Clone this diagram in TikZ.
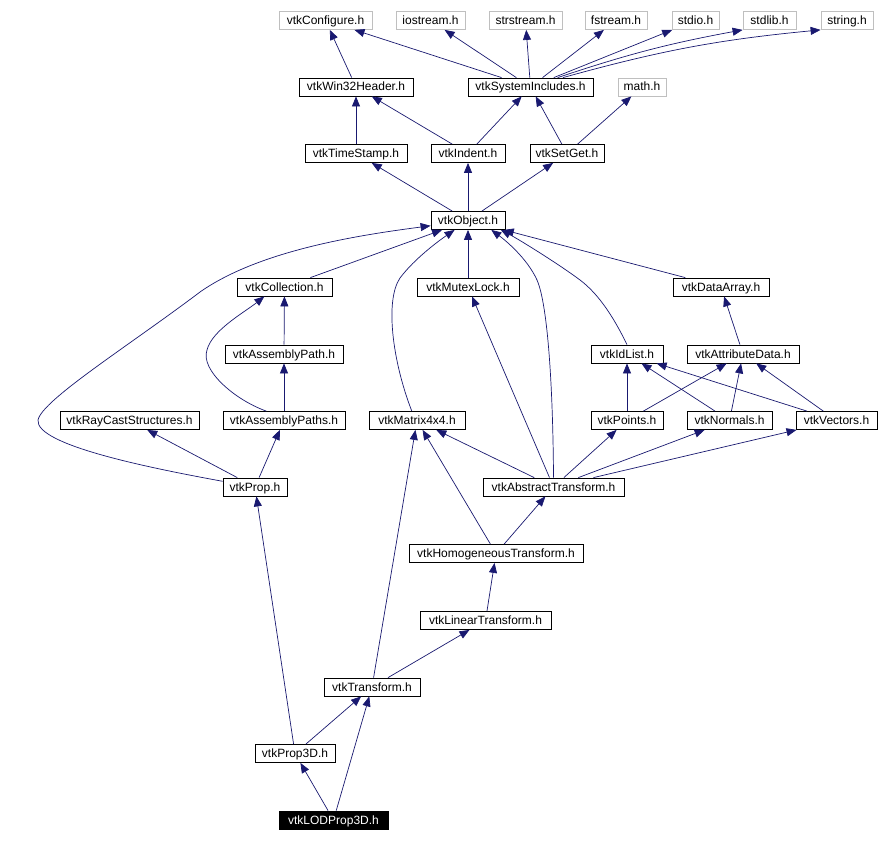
\documentclass[tikz,border=0pt]{standalone}
\usepackage{fontspec}
\setmainfont{Liberation Sans}
\usetikzlibrary{arrows.meta,positioning}
\definecolor{edgec}{HTML}{191970}
\definecolor{extc}{HTML}{BFBFBF}
\tikzset{
  ar/.style={-{Triangle[length=10pt,width=8pt]},line width=0.7pt,edgec},
  hb/.style={rectangle,draw=black,line width=0.8pt,minimum height=18pt,inner sep=0pt,
    text height=10pt,text depth=2pt,font=\fontsize{12}{14}\selectfont},
  xb/.style={hb,draw=extc},
  lb/.style={hb,fill=black,text=white}
}
\newcommand{\hdr}[6]{\node[#1,minimum width=#5pt] (#2) at (#3,#4) {#6};}

\begin{document}
\begin{tikzpicture}[x=1pt,y=-1pt]
\useasboundingbox[fill=white] (0,0) rectangle (878,842);
% headers, one row at a time
\hdr{xb}{cfg}{325.5}{20.5}{93}{vtkConfigure.h}
\hdr{xb}{ios}{430.5}{20.5}{69}{iostream.h}
\hdr{xb}{sstr}{525.5}{20.5}{73}{strstream.h}
\hdr{xb}{fstr}{616}{20.5}{62}{fstream.h}
\hdr{xb}{stdio}{695.5}{20.5}{47}{stdio.h}
\hdr{xb}{stdlib}{769.5}{20.5}{53}{stdlib.h}
\hdr{xb}{str}{847}{20.5}{52}{string.h}
\hdr{hb}{win}{356}{87}{114}{vtkWin32Header.h}
\hdr{hb}{sys}{530.5}{87}{125}{vtkSystemIncludes.h}
\hdr{xb}{math}{642}{87}{48}{math.h}
\hdr{hb}{tstamp}{356}{153.5}{102}{vtkTimeStamp.h}
\hdr{hb}{indent}{468}{153.5}{74}{vtkIndent.h}
\hdr{hb}{setget}{567}{153.5}{74}{vtkSetGet.h}
\hdr{hb}{obj}{468}{220.5}{74}{vtkObject.h}
\hdr{hb}{coll}{284.5}{287}{95}{vtkCollection.h}
\hdr{hb}{mutex}{468}{287}{102}{vtkMutexLock.h}
\hdr{hb}{darr}{721}{287}{96}{vtkDataArray.h}
\hdr{hb}{apath}{284}{354}{118}{vtkAssemblyPath.h}
\hdr{hb}{idl}{627}{354}{72}{vtkIdList.h}
\hdr{hb}{attr}{743}{354}{112}{vtkAttributeData.h}
\hdr{hb}{rcs}{129.5}{420.5}{139}{vtkRayCastStructures.h}
\hdr{hb}{apaths}{284}{420.5}{122}{vtkAssemblyPaths.h}
\hdr{hb}{mat}{417}{420.5}{96}{vtkMatrix4x4.h}
\hdr{hb}{pts}{627}{420.5}{72}{vtkPoints.h}
\hdr{hb}{nrm}{729.5}{420.5}{85}{vtkNormals.h}
\hdr{hb}{vec}{836.5}{420.5}{81}{vtkVectors.h}
\hdr{hb}{prop}{255}{487}{64}{vtkProp.h}
\hdr{hb}{abst}{553.5}{487}{141}{vtkAbstractTransform.h}
\hdr{hb}{homog}{496}{553.5}{174}{vtkHomogeneousTransform.h}
\hdr{hb}{lin}{485.5}{620.5}{131}{vtkLinearTransform.h}
\hdr{hb}{trans}{372}{687}{96}{vtkTransform.h}
\hdr{hb}{prop3d}{295}{753.5}{80}{vtkProp3D.h}
\hdr{lb}{lod}{333.5}{820}{109}{vtkLODProp3D.h}
% include edges
\draw[ar] (win) -- (cfg);
\foreach \t in {cfg,ios,sstr,fstr,stdio}{\draw[ar] (sys) -- (\t);}
\draw[ar] (sys) to[bend left=4] (stdlib.south west);
\draw[ar] (sys) to[bend left=5] (str.south west);
\draw[ar] (tstamp) -- (win);
\draw[ar] (indent) -- (win);
\draw[ar] (indent) -- (sys);
\draw[ar] (setget) -- (sys);
\draw[ar] (setget) -- (math);
\foreach \t in {tstamp,indent,setget}{\draw[ar] (obj) -- (\t);}
\draw[ar] (coll) -- (obj);
\draw[ar] (mutex) -- (obj);
\draw[ar] (darr) -- (obj);
\draw[ar] (prop.170) .. controls (150,468) and (35,445) .. (38,420)
  .. controls (42,400) and (130,345) .. (200,292)
  .. controls (260,250) and (360,235) .. (obj.188);
\draw[ar] (mat.119) .. controls (392,360) and (385,300) .. (400,278)
  .. controls (415,258) and (440,240) .. (obj.215);
\draw[ar] (abst.north) .. controls (553,390) and (548,305) .. (537,280)
  .. controls (527,258) and (505,240) .. (obj.-22);
\draw[ar] (idl.north) .. controls (615,320) and (600,295) .. (580,280)
  .. controls (560,265) and (520,240) .. (obj.-16);
\draw[ar] (apath) -- (coll);
\draw[ar] (apaths.152) .. controls (235,400) and (200,370) .. (207,350)
  .. controls (212,330) and (245,312) .. (coll.205);
\draw[ar] (apaths) -- (apath);
\draw[ar] (attr) -- (darr);
\foreach \s in {pts,nrm,vec}{\draw[ar] (\s) -- (idl); \draw[ar] (\s) -- (attr);}
\draw[ar] (prop) -- (rcs);
\draw[ar] (prop) -- (apaths);
\foreach \t in {mat,mutex,pts,nrm,vec}{\draw[ar] (abst) -- (\t);}
\draw[ar] (homog) -- (abst);
\draw[ar] (homog) -- (mat);
\draw[ar] (lin) -- (homog);
\draw[ar] (trans) -- (lin);
\draw[ar] (trans) -- (mat);
\draw[ar] (prop3d) -- (trans);
\draw[ar] (prop3d) -- (prop);
\draw[ar] (lod) -- (prop3d);
\draw[ar] (lod) -- (trans);
\end{tikzpicture}
\end{document}
